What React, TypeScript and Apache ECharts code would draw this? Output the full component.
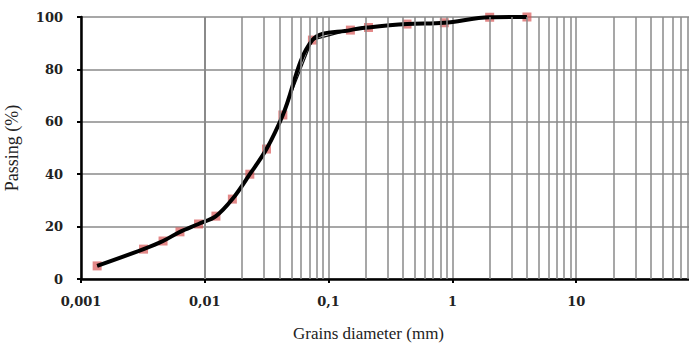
import React, { useEffect, useRef } from "react";
import * as echarts from "echarts";

const diameters = [0.00135, 0.0032, 0.0046, 0.0063, 0.0089, 0.0123, 0.0167, 0.0231, 0.0315, 0.0427, 0.074, 0.15, 0.21, 0.43, 0.86, 2.0, 4.0];
const passing = [5, 11.4, 14.5, 18, 21, 24, 30.5, 40, 49.6, 62.6, 91.2, 95, 96, 97.3, 97.8, 99.9, 100];
const decades = [0.001, 0.01, 0.1, 1, 10];
const minorSteps = [2, 3, 4, 5, 6, 7, 8, 9];

export default function App() {
  const ref = useRef<HTMLDivElement>(null);
  useEffect(() => {
    document.body.style.margin = "0";
    document.body.style.overflow = "hidden";
    const chart = echarts.init(ref.current!, null, { renderer: "svg" });
    const pts = diameters.map((d, i) => [d, passing[i]]);
    const minorLines: any[] = [];
    decades.forEach((d) => minorSteps.forEach((m) => minorLines.push({ xAxis: +(d * m).toPrecision(3) })));
    const serif = "Liberation Serif";
    const boldSerif = "DejaVu Serif";
    const gridColor = "#8a8a8a";
    chart.setOption({
      animation: false,
      grid: { left: 81, top: 17, width: 619, height: 262, containLabel: false, outerBoundsMode: "none" },
      xAxis: {
        type: "log",
        min: 0.001,
        max: 100,
        logBase: 10,
        name: "Grains diameter (mm)",
        nameLocation: "middle",
        nameGap: 46,
        nameTextStyle: { fontFamily: serif, fontSize: 17, color: "#222", padding: [0, 44, 0, 0] },
        axisLine: { lineStyle: { color: "#000", width: 2.5 } },
        axisTick: { show: true, length: 4, lineStyle: { color: "#000", width: 2 } },
        axisLabel: {
          fontFamily: boldSerif,
          fontSize: 13,
          fontWeight: "bold",
          color: "#222",
          margin: 16,
          formatter: (v: number) => (v >= 100 ? "" : String(v).replace(".", ",")),
        },
        splitLine: { show: true, lineStyle: { color: gridColor, width: 1.5 } },
      },
      yAxis: {
        type: "value",
        min: 0,
        max: 100,
        interval: 20,
        name: "Passing (%)",
        nameLocation: "middle",
        nameGap: 60,
        nameRotate: 90,
        nameTextStyle: { fontFamily: serif, fontSize: 18, color: "#222" },
        axisLine: { show: true, lineStyle: { color: "#000", width: 2.5 } },
        axisTick: { show: true, length: 4, lineStyle: { color: "#000", width: 2 } },
        axisLabel: { fontFamily: boldSerif, fontSize: 13, fontWeight: "bold", color: "#222", margin: 18 },
        splitLine: { show: true, lineStyle: { color: gridColor, width: 1.5 } },
      },
      series: [
        {
          type: "scatter",
          data: pts,
          symbol: "rect",
          symbolSize: 9,
          itemStyle: { color: "rgba(214,80,80,0.85)" },
          z: 1,
          markLine: {
            silent: true,
            symbol: ["none", "none"],
            label: { show: false },
            lineStyle: { color: gridColor, width: 1.5, type: "solid" },
            data: minorLines,
          },
        },
        {
          type: "line",
          data: pts,
          smooth: false,
          showSymbol: false,
          lineStyle: { color: "#111", width: 1.2 },
          z: 2,
        },
        {
          type: "line",
          data: pts,
          smooth: 0.35,
          showSymbol: false,
          lineStyle: { color: "#000", width: 4 },
          z: 3,
        },
      ],
    });
    return () => chart.dispose();
  }, []);
  return <div ref={ref} style={{ width: 720, height: 343 }} />;
}
